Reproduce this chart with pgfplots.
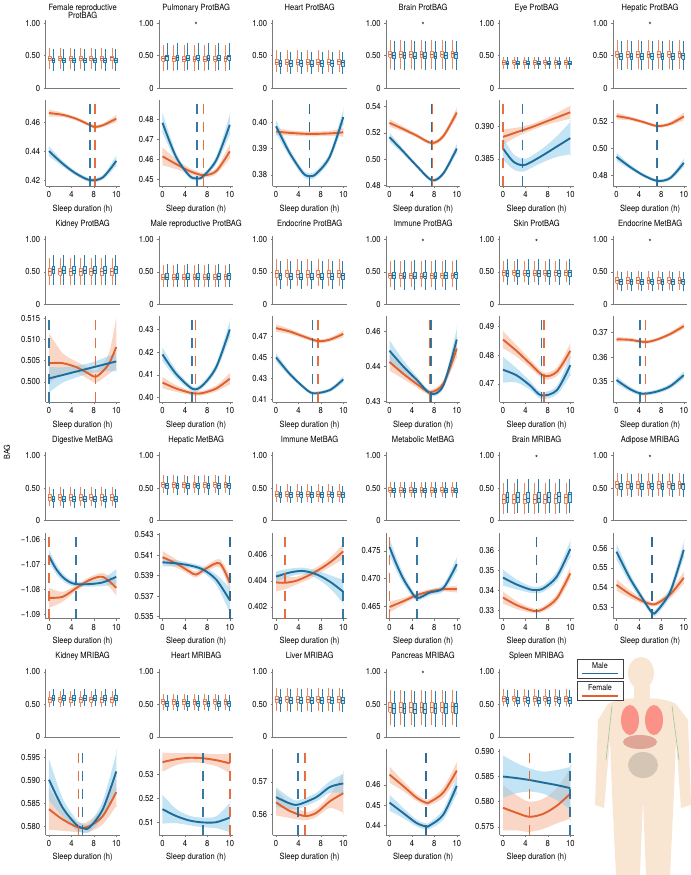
\documentclass[border=0pt]{standalone}
\usepackage{pgfplots}
\pgfplotsset{compat=1.18}
\usepackage{pgfplotstable}
\usepackage{fontspec}
\setmainfont{TeX Gyre Heros}[FakeStretch=0.88]
\definecolor{cB}{HTML}{1F6B9A}
\definecolor{cO}{HTML}{E0602E}
\definecolor{bandB}{HTML}{8FCDEB}
\definecolor{bandO}{HTML}{F5B597}
\definecolor{boxBline}{HTML}{2A7DAF}
\definecolor{boxBfill}{HTML}{C5E6F5}
\definecolor{boxOline}{HTML}{E9875F}
\definecolor{boxOfill}{HTML}{FCEDE5}
\definecolor{axgray}{HTML}{7A7A7A}
\definecolor{skin}{HTML}{F8E6D3}

\def\XO{49}\def\ColP{113.5}\def\YO{23}\def\RowP{216.3}

\pgfplotsset{
 base/.style={scale only axis, width=74bp, xmin=-0.5, xmax=10.5, axis lines=left,
   axis line style={-, axgray, line width=0.7bp}, tick style={axgray, line width=0.5bp},
   tick align=outside, major tick length=2bp, /pgf/number format/assume math mode=true,
   tick label style={font=\fontsize{8.7}{9.5}\selectfont}},
 boxax/.style={base, clip=false, height=68.25bp, ymin=0, ymax=1.05, ytick={0,0.5,1}, yticklabels={0,0.50,1.00}, xtick=\empty},
 curveax/.style={base, height=86bp, xtick={0,3.3333,6.6667,10}, xticklabels={0,4,8,10},
   xlabel={Sleep duration (h)}, xlabel style={font=\fontsize{8.6}{10}\selectfont}},
 whO/.style={draw=boxOline, line width=0.6bp, unbounded coords=jump, mark=none},
 whB/.style={draw=boxBline, line width=0.6bp, unbounded coords=jump, mark=none},
 bxO/.style={draw=boxOline, fill=boxOfill, line width=0.6bp, unbounded coords=jump, mark=none},
 bxB/.style={draw=boxBline, fill=boxBfill, line width=0.6bp, unbounded coords=jump, mark=none},
 mdO/.style={draw=boxOline!75!black, line width=0.8bp, unbounded coords=jump, mark=none},
 mdB/.style={draw=boxBline!75!black, line width=0.8bp, unbounded coords=jump, mark=none},
 dashline/.style={line width=1.6bp, dash pattern=on 10bp off 8bp, draw opacity=0.9},
}

% seven boxes of one sex: #1 O/B, #2 first position, #3 lower whisker, #4 lower quartile,
% #5 upper quartile, #6 upper whisker, #7 medians
\newcommand\boxset[7]{%
  \def\wpath{}\def\bpath{}\def\mpath{}%
  \pgfmathsetmacro\bxpos{#2}%
  \pgfplotsforeachungrouped \m in {#7}{%
    \pgfmathsetmacro\xl{\bxpos-0.21}\pgfmathsetmacro\xr{\bxpos+0.21}%
    \edef\wpath{\wpath(\bxpos,#3)(\bxpos,#6)(nan,nan)}%
    \edef\bpath{\bpath(\xl,#4)(\xr,#4)(\xr,#5)(\xl,#5)(\xl,#4)(nan,nan)}%
    \edef\mpath{\mpath(\xl,\m)(\xr,\m)(nan,nan)}%
    \pgfmathsetmacro\bxpos{\bxpos+1.54}%
  }%
  \edef\doplot{\noexpand\addplot[wh#1] coordinates {\wpath};}\doplot
  \edef\doplot{\noexpand\addplot[bx#1] coordinates {\bpath};}\doplot
  \edef\doplot{\noexpand\addplot[md#1] coordinates {\mpath};}\doplot
}
\newcommand\Star{\node[font=\fontsize{8.6}{10}\selectfont, anchor=base] at (axis cs:5,0.91) {*};}

\newcommand\BoxAxis[4]{%
  \pgfmathsetmacro\AX{\XO+\ColP*#1-3.365}%
  \pgfmathsetmacro\AY{-(\YO+\RowP*#2+65)}%
  \begin{axis}[boxax, at={(\AX bp,\AY bp)}, anchor=south west]
  #4
  \node[font=\fontsize{8.6}{10}\selectfont, anchor=base] at (rel axis cs:0.5,1) [yshift=9.75bp] {#3};
  \end{axis}}

% band outline (upper edge forward, lower edge back) collected from a table's l/h columns
\newcommand\mkband[2]{%
  \def\bandup{}\def\banddn{}%
  \pgfplotstablegetrowsof{#1}%
  \pgfmathtruncatemacro\nr{\pgfplotsretval-1}%
  \pgfplotsforeachungrouped \bi in {0,...,\nr}{%
    \pgfplotstablegetelem{\bi}{x}\of{#1}\let\bx\pgfplotsretval
    \pgfplotstablegetelem{\bi}{h}\of{#1}\let\bh\pgfplotsretval
    \pgfplotstablegetelem{\bi}{l}\of{#1}\let\bl\pgfplotsretval
    \edef\bandup{\bandup(\bx,\bh)}%
    \edef\banddn{(\bx,\bl)\banddn}%
  }%
  \expandafter\edef\csname #2\endcsname{\bandup(\bx,\bh)(\bx,\bl)\banddn}%
}

\def\splitdash#1/#2\relax{\def\dO{#1}\def\dB{#2}}
\newcommand\CurveAxis[9]{%
  \pgfmathsetmacro\AX{\XO+\ColP*#1-3.365}%
  \pgfmathsetmacro\AY{-(\YO+\RowP*#2+163)}%
  \splitdash#7\relax
  \mkband{#8}{bandOc}\mkband{#9}{bandBc}%
  \begin{axis}[curveax, at={(\AX bp,\AY bp)}, anchor=south west, ymin=#3, ymax=#4, ytick={#5}, yticklabels={#6}]
  \edef\tmpplot{\noexpand\addplot[fill=bandO, draw=none, fill opacity=0.55, smooth] coordinates {\bandOc};}\tmpplot
  \edef\tmpplot{\noexpand\addplot[fill=bandB, draw=none, fill opacity=0.55, smooth] coordinates {\bandBc};}\tmpplot
  \addplot[cO, line width=1.9bp, smooth] table[x=x,y=m]{#8};
  \addplot[cB, line width=1.9bp, smooth] table[x=x,y=m]{#9};
  \addplot[cO, dashline] coordinates {(\dO,#3) (\dO,#4)};
  \addplot[cB, dashline] coordinates {(\dB,#3) (\dB,#4)};
  \end{axis}}

% ---------------- data: x, fitted value m, band l..h ----------------
\pgfplotstableread{
x m l h
0 0.4667 0.4642 0.4692
2 0.4655 0.4640 0.4670
4 0.4628 0.4616 0.4640
6 0.4585 0.4573 0.4597
6.8 0.4570 0.4558 0.4582
8 0.4582 0.4569 0.4595
10 0.4628 0.4603 0.4653
}\TAo
\pgfplotstableread{
x m l h
0 0.4402 0.4367 0.4437
2 0.4316 0.4296 0.4336
4 0.4246 0.4231 0.4261
6.1 0.4200 0.4186 0.4214
8 0.4219 0.4203 0.4235
10 0.4334 0.4299 0.4369
}\TAb
\pgfplotstableread{
x m l h
0 0.4613 0.4568 0.4658
2 0.4575 0.4550 0.4600
4 0.4540 0.4525 0.4555
6.1 0.4519 0.4507 0.4531
8 0.4540 0.4525 0.4555
10 0.4638 0.4603 0.4673
}\TBo
\pgfplotstableread{
x m l h
0 0.4781 0.4731 0.4831
2 0.4612 0.4592 0.4632
4 0.4516 0.4504 0.4528
5.1 0.4503 0.4493 0.4513
6 0.4512 0.4502 0.4522
8 0.4595 0.4575 0.4615
10 0.4771 0.4721 0.4821
}\TBb
\pgfplotstableread{
x m l h
0 0.3965 0.3950 0.3980
2 0.3960 0.3950 0.3970
5 0.3956 0.3947 0.3965
8 0.3958 0.3948 0.3968
10 0.3962 0.3946 0.3978
}\TCo
\pgfplotstableread{
x m l h
0 0.3985 0.3960 0.4010
2 0.3885 0.3870 0.3900
4 0.3808 0.3796 0.3820
5 0.3795 0.3784 0.3806
6 0.3805 0.3793 0.3817
8 0.3870 0.3855 0.3885
10 0.4020 0.3992 0.4048
}\TCb
\pgfplotstableread{
x m l h
0 0.5276 0.5246 0.5306
2 0.5230 0.5210 0.5250
4 0.5180 0.5165 0.5195
6.3 0.5122 0.5107 0.5137
8 0.5175 0.5155 0.5195
10 0.5355 0.5320 0.5390
}\TDo
\pgfplotstableread{
x m l h
0 0.5167 0.5132 0.5202
2 0.5060 0.5040 0.5080
4 0.4950 0.4935 0.4965
6.3 0.4838 0.4824 0.4852
8 0.4890 0.4872 0.4908
10 0.5080 0.5045 0.5115
}\TDb
\pgfplotstableread{
x m l h
0 0.3884 0.3872 0.3896
2 0.3891 0.3884 0.3898
4 0.3898 0.3893 0.3903
6 0.3906 0.3901 0.3911
8 0.3914 0.3907 0.3921
10 0.3922 0.3912 0.3932
}\TEo
\pgfplotstableread{
x m l h
0 0.3866 0.3849 0.3883
1.5 0.3846 0.3834 0.3858
2.9 0.3840 0.3830 0.3850
4 0.3844 0.3835 0.3853
6 0.3856 0.3845 0.3867
8 0.3869 0.3853 0.3885
10 0.3882 0.3857 0.3907
}\TEb
\pgfplotstableread{
x m l h
0 0.5243 0.5218 0.5268
2 0.5225 0.5210 0.5240
4 0.5198 0.5186 0.5210
6.1 0.5168 0.5156 0.5180
8 0.5185 0.5170 0.5200
10 0.5240 0.5210 0.5270
}\TFo
\pgfplotstableread{
x m l h
0 0.4938 0.4908 0.4968
2 0.4863 0.4845 0.4881
4 0.4800 0.4787 0.4813
6.1 0.4758 0.4746 0.4770
8 0.4780 0.4765 0.4795
10 0.4893 0.4863 0.4923
}\TFb
\pgfplotstableread{
x m l h
0 0.5044 0.4995 0.5115
2 0.5044 0.5020 0.5068
4 0.5035 0.5022 0.5048
5.5 0.5023 0.5010 0.5036
6.9 0.5012 0.4998 0.5026
8 0.5025 0.5008 0.5042
9 0.5045 0.5020 0.5072
10 0.5082 0.5030 0.5150
}\TGo
\pgfplotstableread{
x m l h
0 0.5008 0.4975 0.5035
2 0.5016 0.4998 0.5034
4 0.5024 0.5010 0.5038
6 0.5032 0.5020 0.5044
8 0.5040 0.5025 0.5055
10 0.5048 0.5025 0.5068
}\TGb
\pgfplotstableread{
x m l h
0 0.4066 0.4041 0.4091
2 0.4040 0.4025 0.4055
4 0.4022 0.4012 0.4032
5 0.4018 0.4008 0.4028
6 0.4020 0.4010 0.4030
8 0.4040 0.4027 0.4053
10 0.4083 0.4058 0.4108
}\THo
\pgfplotstableread{
x m l h
0 0.4190 0.4160 0.4220
2 0.4105 0.4087 0.4123
4.5 0.4038 0.4027 0.4049
6 0.4055 0.4043 0.4067
8 0.4135 0.4117 0.4153
10 0.4300 0.4265 0.4335
}\THb
\pgfplotstableread{
x m l h
0 0.4777 0.4742 0.4812
2 0.4746 0.4721 0.4771
4 0.4700 0.4680 0.4720
6.25 0.4654 0.4636 0.4672
8 0.4668 0.4648 0.4688
10 0.4722 0.4692 0.4752
}\TIo
\pgfplotstableread{
x m l h
0 0.4500 0.4460 0.4540
2 0.4346 0.4321 0.4371
4 0.4223 0.4205 0.4241
5.5 0.4160 0.4144 0.4176
8 0.4190 0.4172 0.4208
10 0.4291 0.4261 0.4321
}\TIb
\pgfplotstableread{
x m l h
0 0.4412 0.4387 0.4437
2 0.4379 0.4364 0.4394
4 0.4350 0.4340 0.4360
6 0.4326 0.4319 0.4333
8 0.4350 0.4340 0.4360
10 0.4450 0.4425 0.4475
}\TJo
\pgfplotstableread{
x m l h
0 0.4444 0.4414 0.4474
2 0.4400 0.4382 0.4418
4 0.4362 0.4352 0.4372
6.2 0.4321 0.4314 0.4328
8 0.4345 0.4336 0.4354
10 0.4476 0.4446 0.4506
}\TJb
\pgfplotstableread{
x m l h
0 0.4854 0.4824 0.4884
2 0.4815 0.4795 0.4835
4 0.4771 0.4756 0.4786
6.1 0.4728 0.4716 0.4740
8 0.4742 0.4727 0.4757
10 0.4815 0.4790 0.4840
}\TKo
\pgfplotstableread{
x m l h
0 0.4749 0.4704 0.4794
2 0.4730 0.4705 0.4755
4 0.4695 0.4680 0.4710
5.7 0.4660 0.4648 0.4672
8 0.4678 0.4663 0.4693
10 0.4765 0.4730 0.4800
}\TKb
\pgfplotstableread{
x m l h
0 0.3673 0.3663 0.3683
2 0.3671 0.3663 0.3679
4.3 0.3662 0.3655 0.3669
6 0.3672 0.3665 0.3679
8 0.3695 0.3687 0.3703
10 0.3727 0.3715 0.3739
}\TLo
\pgfplotstableread{
x m l h
0 0.3507 0.3492 0.3522
2 0.3470 0.3460 0.3480
3.8 0.3451 0.3443 0.3459
6 0.3460 0.3452 0.3468
8 0.3482 0.3472 0.3492
10 0.3527 0.3512 0.3542
}\TLb
\pgfplotstableread{
x m l h
0 -1.0835 -1.0875 -1.0795
2 -1.0831 -1.0851 -1.0811
4 -1.0797 -1.0809 -1.0785
6 -1.0764 -1.0776 -1.0752
8 -1.0751 -1.0766 -1.0736
10 -1.0795 -1.0825 -1.0765
}\TMo
\pgfplotstableread{
x m l h
0 -1.0668 -1.0693 -1.0643
1 -1.0717 -1.0737 -1.0697
2 -1.0751 -1.0766 -1.0736
3 -1.0771 -1.0783 -1.0759
4 -1.0780 -1.0790 -1.0770
6 -1.0780 -1.0790 -1.0770
8 -1.0773 -1.0788 -1.0758
10 -1.0751 -1.0781 -1.0721
}\TMb
\pgfplotstableread{
x m l h
0 0.5408 0.5402 0.5414
2 0.5402 0.5398 0.5406
4 0.5394 0.5391 0.5397
5 0.5391 0.5388 0.5394
6.5 0.5397 0.5394 0.5400
8.5 0.5402 0.5398 0.5406
10 0.5383 0.5376 0.5390
}\TNo
\pgfplotstableread{
x m l h
0 0.5403 0.5399 0.5407
2 0.5402 0.5399 0.5405
4 0.5400 0.53975 0.54025
6 0.5396 0.5393 0.5399
8 0.5386 0.5381 0.5391
10 0.5366 0.5354 0.5378
}\TNb
\pgfplotstableread{
x m l h
0 0.40388 0.40318 0.40458
1.3 0.40385 0.40335 0.40435
3 0.40400 0.40370 0.40430
5 0.40445 0.40415 0.40475
7 0.40505 0.40475 0.40535
8.5 0.40560 0.40520 0.40600
10 0.40626 0.40566 0.40686
}\TOo
\pgfplotstableread{
x m l h
0 0.40432 0.40392 0.40472
2 0.40463 0.40433 0.40493
4 0.40476 0.40451 0.40501
6 0.40450 0.40420 0.40480
8 0.40394 0.40344 0.40444
10 0.40316 0.40226 0.40406
}\TOb
\pgfplotstableread{
x m l h
0 0.4649 0.4639 0.4659
2 0.4659 0.4653 0.4665
4 0.4670 0.4666 0.4674
6 0.4677 0.4673 0.4681
8 0.4681 0.4677 0.4685
10 0.4681 0.4675 0.4687
}\TPo
\pgfplotstableread{
x m l h
0 0.4757 0.4742 0.4772
1 0.4727 0.4715 0.4739
2 0.4701 0.4692 0.4710
3 0.4681 0.4674 0.4688
4.1 0.4665 0.4660 0.4670
6 0.4675 0.4670 0.4680
8 0.4683 0.4677 0.4689
10 0.4726 0.4714 0.4738
}\TPb
\pgfplotstableread{
x m l h
0 0.3362 0.3332 0.3392
2 0.3325 0.3305 0.3345
4 0.3300 0.3287 0.3313
5 0.3295 0.3283 0.3307
6 0.3305 0.3292 0.3318
8 0.3358 0.3338 0.3378
10 0.3483 0.3453 0.3513
}\TQo
\pgfplotstableread{
x m l h
0 0.3462 0.3422 0.3502
2 0.3428 0.3403 0.3453
4 0.3403 0.3386 0.3420
5 0.3400 0.3384 0.3416
6 0.3408 0.3391 0.3425
8 0.3467 0.3442 0.3492
10 0.3605 0.3565 0.3645
}\TQb
\pgfplotstableread{
x m l h
0 0.5414 0.5384 0.5444
2 0.5366 0.5346 0.5386
4 0.5329 0.5316 0.5342
5.3 0.5315 0.5303 0.5327
6 0.5319 0.5307 0.5331
8 0.5366 0.5346 0.5386
10 0.5450 0.5420 0.5480
}\TRo
\pgfplotstableread{
x m l h
0 0.5583 0.5543 0.5623
2 0.5447 0.5422 0.5472
4 0.5337 0.5320 0.5354
5.3 0.5272 0.5257 0.5287
6 0.5280 0.5264 0.5296
8 0.5380 0.5355 0.5405
10 0.5592 0.5552 0.5632
}\TRb
\pgfplotstableread{
x m l h
0 0.5837 0.5792 0.5882
2 0.5815 0.5790 0.5840
4.4 0.5797 0.5787 0.5807
6 0.5800 0.5788 0.5812
8 0.5822 0.5804 0.5840
10 0.5874 0.5844 0.5904
}\TSo
\pgfplotstableread{
x m l h
0 0.5901 0.5856 0.5946
2 0.5841 0.5821 0.5861
4 0.5804 0.5792 0.5816
5 0.5796 0.5786 0.5806
6 0.5797 0.5787 0.5807
8 0.5837 0.5819 0.5855
10 0.5919 0.5879 0.5959
}\TSb
\pgfplotstableread{
x m l h
0 0.5350 0.5310 0.5390
2 0.5362 0.5337 0.5387
4 0.5368 0.5348 0.5388
6 0.5366 0.5346 0.5386
8 0.5358 0.5333 0.5383
10 0.5345 0.5305 0.5385
}\TTo
\pgfplotstableread{
x m l h
0 0.5154 0.5094 0.5214
2 0.5126 0.5096 0.5156
4 0.5107 0.5087 0.5127
6 0.5099 0.5079 0.5119
8 0.5100 0.5075 0.5125
10 0.5119 0.5059 0.5179
}\TTb
\pgfplotstableread{
x m l h
0 0.5637 0.5597 0.5677
2 0.5611 0.5589 0.5633
4.3 0.5595 0.5582 0.5608
6 0.5605 0.5592 0.5618
8 0.5640 0.5620 0.5660
10 0.5665 0.5605 0.5725
}\TUo
\pgfplotstableread{
x m l h
0 0.5653 0.5623 0.5683
2 0.5634 0.5616 0.5652
3.3 0.5630 0.5617 0.5643
6 0.5653 0.5640 0.5666
8 0.5684 0.5666 0.5702
10 0.5695 0.5665 0.5725
}\TUb
\pgfplotstableread{
x m l h
0 0.4650 0.4610 0.4690
2 0.4595 0.4570 0.4620
4 0.4537 0.4520 0.4554
5.4 0.4512 0.4497 0.4527
6 0.4515 0.4499 0.4531
8 0.4562 0.4537 0.4587
10 0.4670 0.4630 0.4710
}\TVo
\pgfplotstableread{
x m l h
0 0.4512 0.4472 0.4552
2 0.4462 0.4437 0.4487
4 0.4412 0.4395 0.4429
5.4 0.4395 0.4380 0.4410
6 0.4400 0.4384 0.4416
8 0.4453 0.4428 0.4478
10 0.4595 0.4555 0.4635
}\TVb
\pgfplotstableread{
x m l h
0 0.5788 0.5743 0.5833
2 0.5778 0.5743 0.5813
3.95 0.5770 0.5740 0.5800
6 0.5776 0.5746 0.5806
8 0.5792 0.5757 0.5827
10 0.5816 0.5766 0.5866
}\TWo
\pgfplotstableread{
x m l h
0 0.5850 0.5808 0.5892
2 0.5847 0.5817 0.5877
4 0.5843 0.5820 0.5866
6 0.5838 0.5816 0.5860
8 0.5833 0.5803 0.5863
10 0.5827 0.5785 0.5869
}\TWb

\begin{document}
\begin{tikzpicture}
\path[use as bounding box] (0,0) rectangle (691bp,-875bp);

% ---- body illustration (decorative) ----
\begin{scope}
\fill[skin] (641bp,-673bp) ellipse [x radius=13bp, y radius=16bp];
\fill[skin] (634bp,-686bp) rectangle (650bp,-702bp);
\fill[skin] (608bp,-704bp) .. controls (620bp,-696bp) and (664bp,-696bp) .. (676bp,-704bp)
  -- (688bp,-720bp) -- (691bp,-805bp) -- (681bp,-808bp) -- (676bp,-740bp)
  -- (674bp,-792bp) -- (670bp,-875bp) -- (646bp,-875bp) -- (643bp,-800bp)
  -- (640bp,-875bp) -- (616bp,-875bp) -- (612bp,-792bp) -- (610bp,-740bp)
  -- (604bp,-808bp) -- (595bp,-805bp) -- (598bp,-720bp) -- cycle;
\fill[red!45!skin, opacity=0.8] (630bp,-720bp) ellipse [x radius=9bp, y radius=15bp];
\fill[red!45!skin, opacity=0.8] (654bp,-720bp) ellipse [x radius=9bp, y radius=15bp];
\fill[red!65!black!40!skin, opacity=0.7] (640bp,-742bp) ellipse [x radius=17bp, y radius=7bp];
\fill[black!18!skin, opacity=0.8] (643bp,-765bp) ellipse [x radius=15bp, y radius=13bp];
\draw[green!45!black!40, line width=0.6bp] (612bp,-706bp) -- (606bp,-760bp);
\draw[green!45!black!40, line width=0.6bp] (672bp,-706bp) -- (679bp,-760bp);
\end{scope}

% ---- legend ----
\draw[black!75, line width=0.5bp, fill=white] (577bp,-659bp) rectangle (623bp,-678bp);
\node[font=\fontsize{8.2}{9}\selectfont] at (600bp,-665.5bp) {Male};
\draw[cB, line width=1.2bp] (582bp,-673.5bp) -- (618bp,-673.5bp);
\draw[black!75, line width=0.5bp, fill=white] (577bp,-681bp) rectangle (623bp,-700bp);
\node[font=\fontsize{8.2}{9}\selectfont] at (600bp,-687.5bp) {Female};
\draw[cO, line width=1.2bp] (582bp,-696bp) -- (618bp,-696bp);

\node[rotate=90, font=\fontsize{8.2}{9}\selectfont] at (7bp,-452bp) {BAG};

% ================= ROW 1 =================
\BoxAxis{0}{0}{Female reproductive}{%
 \boxset{O}{0.1}{0.30}{0.42}{0.49}{0.62}{0.46,0.46,0.45,0.45,0.45,0.46,0.47}%
 \boxset{B}{0.65}{0.26}{0.39}{0.46}{0.60}{0.43,0.43,0.42,0.42,0.42,0.42,0.43}%
 \node[font=\fontsize{8.6}{10}\selectfont, anchor=base] at (rel axis cs:0.5,1) [yshift=1.25bp] {ProtBAG};}
\CurveAxis{0}{0}{0.4159}{0.4758}{0.42,0.44,0.46}{0.42,0.44,0.46}{6.8/6.1}{\TAo}{\TAb}

\BoxAxis{1}{0}{Pulmonary ProtBAG}{%
 \boxset{O}{0.1}{0.26}{0.41}{0.49}{0.66}{0.45,0.45,0.44,0.44,0.44,0.44,0.45}%
 \boxset{B}{0.65}{0.28}{0.43}{0.51}{0.70}{0.49,0.47,0.45,0.45,0.45,0.46,0.48}\Star}
\CurveAxis{1}{0}{0.4465}{0.4895}{0.45,0.46,0.47,0.48}{0.45,0.46,0.47,0.48}{6.1/5.1}{\TBo}{\TBb}

\BoxAxis{2}{0}{Heart ProtBAG}{%
 \boxset{O}{0.1}{0.24}{0.36}{0.44}{0.58}{0.40,0.40,0.40,0.39,0.40,0.40,0.41}%
 \boxset{B}{0.65}{0.22}{0.34}{0.42}{0.56}{0.38,0.38,0.38,0.37,0.38,0.38,0.39}}
\CurveAxis{2}{0}{0.3758}{0.4085}{0.38,0.39,0.40}{0.38,0.39,0.40}{5.0/5.0}{\TCo}{\TCb}

\BoxAxis{3}{0}{Brain ProtBAG}{%
 \boxset{O}{0.1}{0.30}{0.47}{0.57}{0.74}{0.52,0.52,0.51,0.51,0.51,0.52,0.53}%
 \boxset{B}{0.65}{0.28}{0.45}{0.55}{0.72}{0.50,0.50,0.49,0.49,0.49,0.50,0.51}\Star}
\CurveAxis{3}{0}{0.4794}{0.5451}{0.48,0.50,0.52,0.54}{0.48,0.50,0.52,0.54}{6.35/6.25}{\TDo}{\TDb}

\BoxAxis{4}{0}{Eye ProtBAG}{%
 \boxset{O}{0.1}{0.30}{0.37}{0.42}{0.48}{0.39,0.39,0.39,0.39,0.39,0.39,0.39}%
 \boxset{B}{0.65}{0.29}{0.36}{0.41}{0.47}{0.38,0.38,0.38,0.38,0.38,0.38,0.38}}
\CurveAxis{4}{0}{0.3808}{0.3941}{0.385,0.390}{0.385,0.390}{0/2.9}{\TEo}{\TEb}

\BoxAxis{5}{0}{Hepatic ProtBAG}{%
 \boxset{O}{0.1}{0.30}{0.47}{0.57}{0.74}{0.52,0.52,0.51,0.51,0.52,0.52,0.53}%
 \boxset{B}{0.65}{0.28}{0.44}{0.54}{0.72}{0.49,0.49,0.48,0.48,0.48,0.49,0.50}\Star}
\CurveAxis{5}{0}{0.4720}{0.5363}{0.48,0.50,0.52}{0.48,0.50,0.52}{6.1/6.0}{\TFo}{\TFb}

% ================= ROW 2 =================
\BoxAxis{0}{1}{Kidney ProtBAG}{%
 \boxset{O}{0.1}{0.30}{0.45}{0.55}{0.72}{0.50,0.50,0.50,0.50,0.50,0.50,0.51}%
 \boxset{B}{0.65}{0.30}{0.47}{0.58}{0.76}{0.53,0.52,0.52,0.52,0.52,0.52,0.53}}
\CurveAxis{0}{1}{0.4952}{0.5154}{0.500,0.505,0.510,0.515}{0.500,0.505,0.510,0.515}{6.9/0}{\TGo}{\TGb}

\BoxAxis{1}{1}{Male reproductive ProtBAG}{%
 \boxset{O}{0.1}{0.26}{0.38}{0.46}{0.60}{0.42,0.42,0.42,0.42,0.42,0.42,0.43}%
 \boxset{B}{0.65}{0.26}{0.38}{0.47}{0.62}{0.42,0.42,0.41,0.41,0.42,0.43,0.45}}
\CurveAxis{1}{1}{0.3979}{0.4358}{0.40,0.41,0.42,0.43}{0.40,0.41,0.42,0.43}{4.9/4.4}{\THo}{\THb}

\BoxAxis{2}{1}{Endocrine ProtBAG}{%
 \boxset{O}{0.1}{0.28}{0.42}{0.52}{0.70}{0.47,0.47,0.46,0.46,0.46,0.47,0.48}%
 \boxset{B}{0.65}{0.24}{0.38}{0.48}{0.66}{0.44,0.43,0.42,0.42,0.42,0.43,0.44}}
\CurveAxis{2}{1}{0.4074}{0.4889}{0.41,0.43,0.45,0.47}{0.41,0.43,0.45,0.47}{6.25/5.4}{\TIo}{\TIb}

\BoxAxis{3}{1}{Immune ProtBAG}{%
 \boxset{O}{0.1}{0.26}{0.40}{0.48}{0.66}{0.44,0.44,0.44,0.43,0.44,0.44,0.45}%
 \boxset{B}{0.65}{0.22}{0.40}{0.49}{0.68}{0.44,0.43,0.43,0.43,0.43,0.44,0.46}\Star}
\CurveAxis{3}{1}{0.4297}{0.4542}{0.43,0.44,0.45}{0.43,0.44,0.46}{6.0/6.2}{\TJo}{\TJb}

\BoxAxis{4}{1}{Skin ProtBAG}{%
 \boxset{O}{0.1}{0.34}{0.45}{0.52}{0.66}{0.49,0.49,0.48,0.48,0.48,0.49,0.49}%
 \boxset{B}{0.65}{0.30}{0.43}{0.53}{0.70}{0.48,0.48,0.47,0.47,0.47,0.48,0.49}\Star}
\CurveAxis{4}{1}{0.4636}{0.4935}{0.47,0.48,0.49}{0.47,0.48,0.49}{6.1/5.7}{\TKo}{\TKb}

\BoxAxis{5}{1}{Endocrine MetBAG}{%
 \boxset{O}{0.1}{0.22}{0.33}{0.41}{0.52}{0.37,0.37,0.37,0.37,0.37,0.37,0.37}%
 \boxset{B}{0.65}{0.20}{0.31}{0.39}{0.50}{0.35,0.35,0.35,0.35,0.35,0.35,0.35}\Star}
\CurveAxis{5}{1}{0.3416}{0.3767}{0.35,0.36,0.37}{0.35,0.36,0.37}{4.3/3.5}{\TLo}{\TLb}

% ================= ROW 3 =================
\BoxAxis{0}{2}{Digestive MetBAG}{%
 \boxset{O}{0.1}{0.22}{0.32}{0.40}{0.52}{0.36,0.36,0.36,0.36,0.36,0.36,0.36}%
 \boxset{B}{0.65}{0.20}{0.29}{0.37}{0.48}{0.33,0.33,0.33,0.33,0.33,0.33,0.33}}
\CurveAxis{0}{2}{-1.0918}{-1.0574}{-1.09,-1.08,-1.07,-1.06}{−1.09,−1.08,−1.07,−1.06}{0/4.0}{\TMo}{\TMb}

\BoxAxis{1}{2}{Hepatic MetBAG}{%
 \boxset{O}{0.1}{0.42}{0.51}{0.59}{0.70}{0.55,0.55,0.55,0.55,0.55,0.55,0.55}%
 \boxset{B}{0.65}{0.40}{0.50}{0.58}{0.68}{0.54,0.54,0.54,0.54,0.54,0.54,0.54}}
\CurveAxis{1}{2}{0.5348}{0.5432}{0.535,0.537,0.539,0.541,0.543}{0.535,0.537,0.539,0.541,0.543}{10/10}{\TNo}{\TNb}

\BoxAxis{2}{2}{Immune MetBAG}{%
 \boxset{O}{0.1}{0.28}{0.37}{0.45}{0.56}{0.41,0.41,0.41,0.41,0.41,0.41,0.41}%
 \boxset{B}{0.65}{0.27}{0.36}{0.44}{0.54}{0.40,0.40,0.40,0.40,0.40,0.40,0.40}}
\CurveAxis{2}{2}{0.4011}{0.4077}{0.402,0.404,0.406}{0.402,0.404,0.406}{1.3/10}{\TOo}{\TOb}

\BoxAxis{3}{2}{Metabolic MetBAG}{%
 \boxset{O}{0.1}{0.36}{0.44}{0.51}{0.60}{0.47,0.47,0.47,0.47,0.47,0.47,0.47}%
 \boxset{B}{0.65}{0.35}{0.43}{0.50}{0.59}{0.47,0.47,0.47,0.47,0.47,0.47,0.47}}
\CurveAxis{3}{2}{0.4628}{0.4783}{0.465,0.470,0.475}{0.465,0.470,0.475}{0/4.1}{\TPo}{\TPb}

\BoxAxis{4}{2}{Brain MRIBAG}{%
 \boxset{O}{0.1}{0.10}{0.26}{0.40}{0.58}{0.33,0.33,0.32,0.32,0.33,0.34,0.35}%
 \boxset{B}{0.65}{0.12}{0.28}{0.44}{0.64}{0.35,0.35,0.34,0.34,0.35,0.37,0.40}\Star}
\CurveAxis{4}{2}{0.3257}{0.3687}{0.33,0.34,0.35,0.36}{0.33,0.34,0.35,0.36}{5.0/5.0}{\TQo}{\TQb}

\BoxAxis{5}{2}{Adipose MRIBAG}{%
 \boxset{O}{0.1}{0.38}{0.50}{0.60}{0.74}{0.55,0.55,0.55,0.55,0.55,0.55,0.56}%
 \boxset{B}{0.65}{0.36}{0.48}{0.58}{0.72}{0.53,0.53,0.52,0.52,0.53,0.54,0.56}\Star}
\CurveAxis{5}{2}{0.5242}{0.5680}{0.53,0.54,0.55,0.56}{0.53,0.54,0.55,0.56}{5.3/5.3}{\TRo}{\TRb}

% ================= ROW 4 =================
\BoxAxis{0}{3}{Kidney MRIBAG}{%
 \boxset{O}{0.1}{0.46}{0.53}{0.61}{0.70}{0.57,0.57,0.57,0.57,0.57,0.57,0.57}%
 \boxset{B}{0.65}{0.48}{0.56}{0.64}{0.74}{0.60,0.60,0.60,0.60,0.60,0.60,0.60}}
\CurveAxis{0}{3}{0.5781}{0.5968}{0.580,0.585,0.590,0.595}{0.580,0.585,0.590,0.595}{4.4/5.0}{\TSo}{\TSb}

\BoxAxis{1}{3}{Heart MRIBAG}{%
 \boxset{O}{0.1}{0.42}{0.50}{0.58}{0.66}{0.54,0.54,0.54,0.54,0.54,0.54,0.54}%
 \boxset{B}{0.65}{0.40}{0.47}{0.55}{0.64}{0.51,0.51,0.51,0.51,0.51,0.51,0.51}}
\CurveAxis{1}{3}{0.5047}{0.5405}{0.51,0.52,0.53}{0.51,0.52,0.53}{10/6.0}{\TTo}{\TTb}

\BoxAxis{2}{3}{Liver MRIBAG}{%
 \boxset{O}{0.1}{0.40}{0.53}{0.63}{0.76}{0.58,0.58,0.58,0.58,0.58,0.58,0.58}%
 \boxset{B}{0.65}{0.38}{0.51}{0.61}{0.74}{0.56,0.56,0.56,0.56,0.56,0.56,0.56}}
\CurveAxis{2}{3}{0.5537}{0.5801}{0.56,0.57}{0.56,0.57}{4.3/3.3}{\TUo}{\TUb}

\BoxAxis{3}{3}{Pancreas MRIBAG}{%
 \boxset{O}{0.1}{0.18}{0.38}{0.53}{0.72}{0.46,0.46,0.45,0.45,0.46,0.46,0.47}%
 \boxset{B}{0.65}{0.16}{0.36}{0.51}{0.70}{0.44,0.44,0.43,0.43,0.44,0.45,0.47}\Star}
\CurveAxis{3}{3}{0.4353}{0.4777}{0.44,0.45,0.46}{0.44,0.45,0.46}{5.4/5.4}{\TVo}{\TVb}

\BoxAxis{4}{3}{Spleen MRIBAG}{%
 \boxset{O}{0.1}{0.48}{0.55}{0.63}{0.74}{0.59,0.59,0.59,0.59,0.59,0.59,0.59}%
 \boxset{B}{0.65}{0.46}{0.52}{0.61}{0.72}{0.57,0.56,0.56,0.56,0.56,0.57,0.56}}
\CurveAxis{4}{3}{0.5734}{0.5905}{0.575,0.580,0.585,0.590}{0.575,0.580,0.585,0.590}{3.95/10}{\TWo}{\TWb}

\end{tikzpicture}
\end{document}
